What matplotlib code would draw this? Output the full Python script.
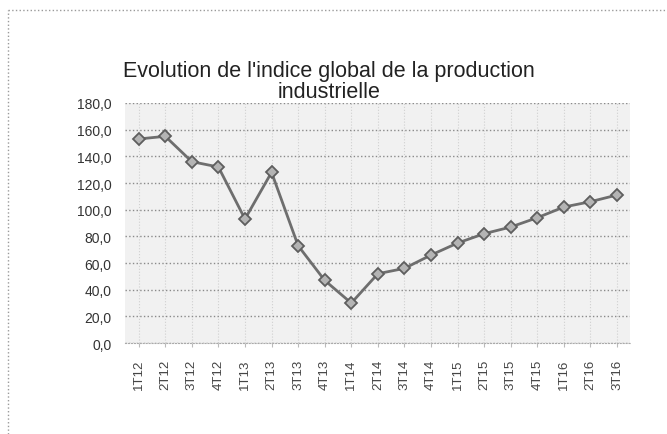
import matplotlib
matplotlib.use('Agg')
import matplotlib.pyplot as plt
from matplotlib.ticker import FuncFormatter

# quarterly labels and index values
quarters = ['1T12', '2T12', '3T12', '4T12', '1T13', '2T13', '3T13', '4T13',
            '1T14', '2T14', '3T14', '4T14', '1T15', '2T15', '3T15', '4T15',
            '1T16', '2T16', '3T16']
indice = [153, 155, 136, 132, 93, 128, 73, 47, 30, 52, 56, 66,
          75, 82, 87, 94, 102, 106, 111]

plt.rcParams['font.family'] = ['Liberation Sans', 'DejaVu Sans']

fig = plt.figure(figsize=(6.67, 4.35), dpi=100)
fig.patch.set_facecolor('white')

# dotted frame (only left and top edges show in the scan)
fig.add_artist(plt.Line2D([0.012, 0.012], [0.0, 0.975], transform=fig.transFigure,
                          color='#9a9a9a', linewidth=1, linestyle=':'))
fig.add_artist(plt.Line2D([0.012, 1.0], [0.975, 0.975], transform=fig.transFigure,
                          color='#9a9a9a', linewidth=1, linestyle=':'))

ax = fig.add_axes([0.188, 0.209, 0.757, 0.552])
ax.set_facecolor('#f1f1f1')

x = range(len(quarters))
ax.plot(x, indice, color='#6e6e6e', linewidth=2.0, marker='D', markersize=6.5,
        markerfacecolor='#b4b4b4', markeredgecolor='#5e5e5e', markeredgewidth=1.3, zorder=3)

ax.set_ylim(0, 180)
ax.set_yticks(range(0, 181, 20))
ax.yaxis.set_major_formatter(FuncFormatter(lambda v, p: f'{v:.1f}'.replace('.', ',')))
ax.set_xlim(-0.5, len(quarters) - 0.5)
ax.set_xticks(list(x))
ax.set_xticklabels(quarters, rotation=90, fontsize=9.5, color='#444444')
ax.tick_params(axis='y', labelsize=10, colors='#333333', length=0, pad=10)
ax.tick_params(axis='x', length=3, color='#bbbbbb', pad=8)

ax.grid(axis='y', color='#8a8a8a', linestyle=':', linewidth=1)
ax.grid(axis='x', color='#d0d0d0', linestyle=':', linewidth=0.8)
ax.set_axisbelow(True)
for s in ['top', 'right', 'left']:
    ax.spines[s].set_visible(False)
ax.spines['bottom'].set_color('#aaaaaa')
ax.spines['bottom'].set_linestyle(':')

fig.text(0.493, 0.764, "Evolution de l'indice global de la production\nindustrielle",
         ha='center', va='bottom', fontsize=15.5, color='#222222', linespacing=1.0)

fig.savefig('out.png', dpi=100)
